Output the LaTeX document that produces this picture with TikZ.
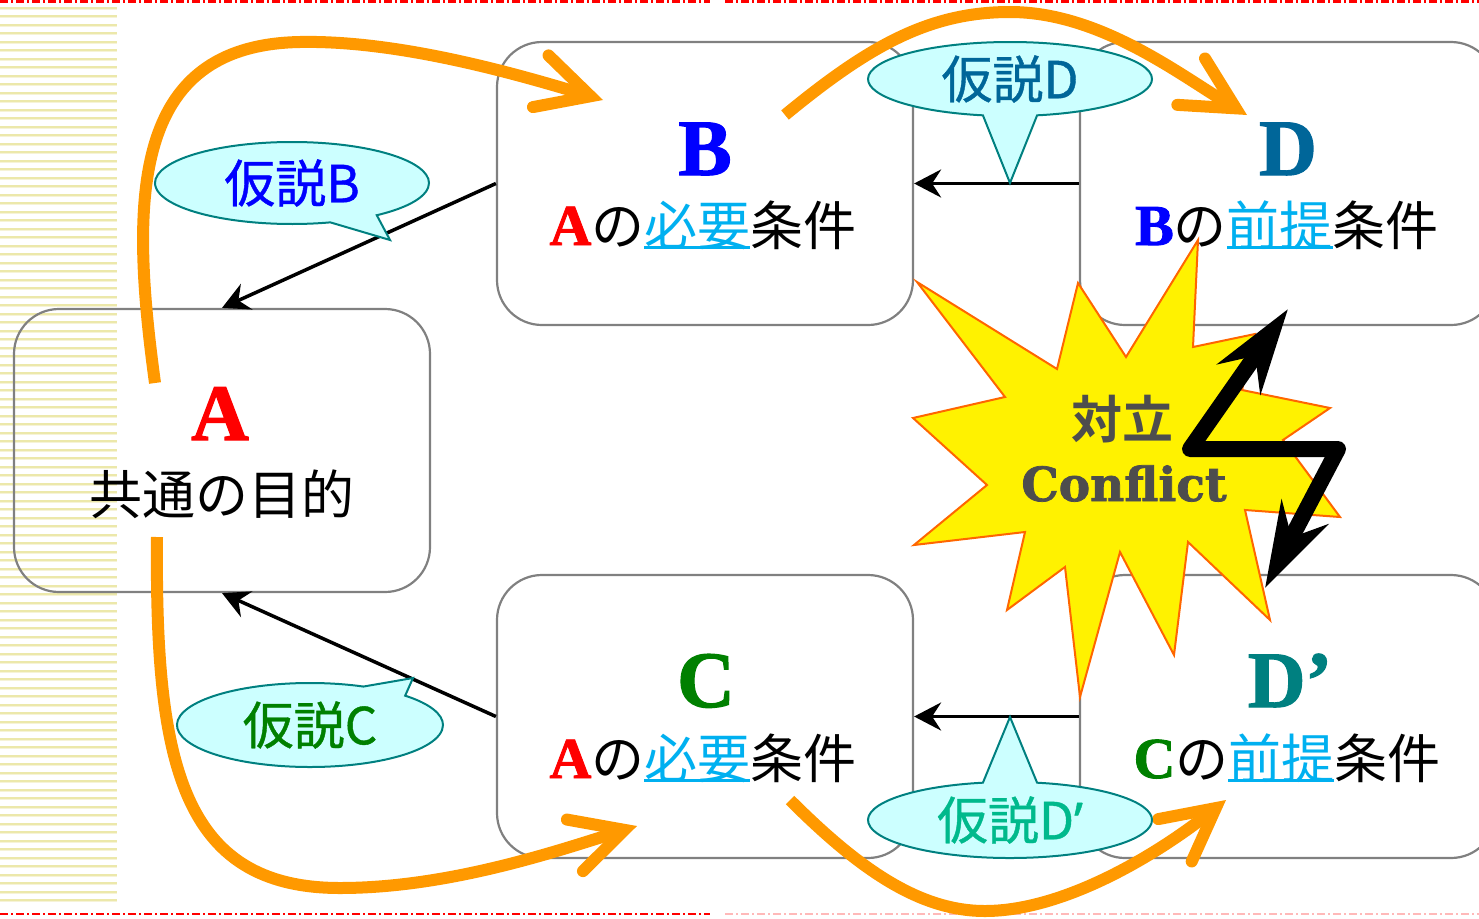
\documentclass[tikz,border=0pt]{standalone}
\usepackage{fontspec}
\usetikzlibrary{arrows.meta,shapes.callouts,shapes.geometric}
\newfontfamily\cjk[BoldFont={Noto Sans CJK JP Bold}]{Noto Sans CJK JP}
\newfontfamily\cjkm[FakeBold=0.8]{Noto Sans CJK JP}
\newfontfamily\tnr[BoldFeatures={FakeBold=1.5}]{Liberation Serif}
\newfontfamily\conffont[BoldFeatures={FakeBold=1.6}]{DejaVu Serif}
\newfontfamily\notos[FakeBold=0.8]{Noto Sans}
\definecolor{boxgray}{RGB}{128,128,128}
\definecolor{orng}{RGB}{255,153,0}
\definecolor{calfill}{RGB}{204,255,255}
\definecolor{calline}{RGB}{0,128,128}
\definecolor{Dblue}{RGB}{0,102,153}
\definecolor{Dteal}{RGB}{0,128,128}
\definecolor{Cgreen}{RGB}{0,128,0}
\definecolor{ulblue}{RGB}{0,176,240}
\definecolor{hypDp}{RGB}{0,185,140}
\definecolor{confgray}{RGB}{77,77,77}
\definecolor{burstline}{RGB}{255,102,0}
\definecolor{stripeA}{RGB}{236,232,170}
\definecolor{stripeB}{RGB}{246,243,215}
\definecolor{pinkd}{RGB}{255,185,185}
\newlength\ulw
\newcommand\ulc[1]{\settowidth\ulw{#1}\rlap{\rule[-0.07em]{\ulw}{3pt}}#1}
\newcommand\latn[2]{{\tnr\bfseries\fontsize{58}{58}\selectfont\color{#1}#2}}
\begin{document}
\begin{tikzpicture}[x=1pt,y=-1pt,
  box/.style={draw=boxgray, line width=2.2pt, rounded corners=45pt, minimum width=416pt, minimum height=283pt, inner sep=0pt},
  conn/.style={draw=black, line width=3.5pt, -{Stealth[length=27pt,width=28pt,inset=9pt]}},
  bigarrow/.style={draw=orng, line width=12pt, -{Straight Barb[length=52pt,width=54pt,line cap=round,line join=miter]}},
  hyp/.style={ellipse callout, draw=calline, fill=calfill, line width=2pt, inner sep=0pt, callout pointer arc=22, font=\cjkm\fontsize{51}{55}\selectfont},
  bigl/.style={font=\tnr\bfseries\fontsize{80}{80}\selectfont, anchor=base, inner sep=0pt},
  jline/.style={font=\cjk\fontsize{53}{57}\selectfont, anchor=base, inner sep=0pt},
  border/.style={line width=2.5pt, dash pattern=on 8pt off 3pt on 2pt off 3pt}]
\useasboundingbox (0,0) rectangle (1479,918);
% background stripes
\foreach \k in {0,...,105} {
  \draw[stripeA, line width=2pt] (0,{7.5+8.5*\k}) -- (117,{7.5+8.5*\k});
  \draw[stripeB, line width=1.2pt] (0,{9.1+8.5*\k}) -- (117,{9.1+8.5*\k});
}
% page borders
\draw[border, red] (0,1.5) -- (710,1.5);
\draw[border, red] (725,1.5) -- (1479,1.5);
\draw[border, red] (0,914) -- (710,914);
\draw[border, pinkd] (725,914) -- (1479,914);
% boxes
\node[box] (A) at (222,450.5) {};
\node[box] (B) at (705,183.5) {};
\node[box] (C) at (705,716.5) {};
\node[box] (D) at (1288,183.5) {};
\node[box] (Dp) at (1288,716.5) {};
% box texts
\node[bigl, text=red] (Al) at (220,440) {A};
\node[jline] (At) at (222,514) {共通の目的};
\node[bigl, text=blue] (Bl) at (705,175) {B};
\node[jline] (Bt) at (703,245) {\latn{red}{A}の{\color{ulblue}\ulc{必要}}条件};
\node[bigl, text=Dblue] (Dl) at (1288,175) {D};
\node[jline] (Dt) at (1287,245) {\latn{blue}{B}の{\color{ulblue}\ulc{前提}}条件};
\node[bigl, text=Cgreen] (Cl) at (706,707) {C};
\node[jline] (Ct) at (703,778) {\latn{red}{A}の{\color{ulblue}\ulc{必要}}条件};
\node[bigl, text=Dteal] (Dpl) at (1290,707) {D’};
\node[jline] (Dpt) at (1287,778) {\latn{Cgreen}{C}の{\color{ulblue}\ulc{前提}}条件};
% black connectors
\draw[conn] (B.west) -- (A.north);
\draw[conn] (C.west) -- (A.south);
\draw[conn] (D.west) -- (B.east);
\draw[conn] (Dp.west) -- (C.east);
% orange arrows
\coordinate (o1s) at (155,383); \coordinate (o1e) at (603,100);
\coordinate (o2s) at (785,115); \coordinate (o2e) at (1247,115);
\coordinate (o3s) at (157,537); \coordinate (o3e) at (637,826);
\coordinate (o4s) at (790,800); \coordinate (o4e) at (1226,800);
\draw[bigarrow] (o1s) .. controls (130,200) and (130,45) .. (300,42) .. controls (400,40) and (520,75) .. (o1e);
\draw[bigarrow] (o2s) .. controls (870,45) and (930,12) .. (1010,12) .. controls (1100,12) and (1180,75) .. (o2e);
\draw[bigarrow] (o3s) .. controls (155,760) and (180,888) .. (340,888) .. controls (450,888) and (560,850) .. (o3e);
\draw[bigarrow] (o4s) .. controls (860,870) and (920,911) .. (985,911) .. controls (1060,911) and (1150,860) .. (o4e);
% hypothesis callouts
\node[hyp, minimum width=274pt, minimum height=82pt, callout absolute pointer={(390,240)}] (hB) at (292,183) {\color{blue}仮説B};
\node[hyp, minimum width=266pt, minimum height=84pt, callout absolute pointer={(413,678)}] (hC) at (310,725) {\color{Cgreen}仮説C};
\node[hyp, minimum width=284pt, minimum height=74pt, callout absolute pointer={(1010,183)}] (hD) at (1010,79) {\color{Dblue}仮説D};
\node[hyp, minimum width=284pt, minimum height=76pt, callout absolute pointer={(1010,717)}] (hDp) at (1010,820) {\color{hypDp}仮説D{\notos ’}};
% conflict burst
\draw[fill=yellow, draw=burstline, line width=2pt]
  (1198,240) -- (1193,347) -- (1255,334) -- (1242,390) -- (1330,408) -- (1283,440)
  -- (1340,517) -- (1245,510) -- (1270,620) -- (1188,542) -- (1174,655) -- (1120,552)
  -- (1080,697) -- (1065,567) -- (1007,610) -- (1025,532) -- (914,545) -- (987,485)
  -- (913,418) -- (1005,397) -- (917,282) -- (1057,369) -- (1078,283) -- (1126,357) -- cycle;
\node[font=\cjk\bfseries\fontsize{51}{55}\selectfont, text=confgray, anchor=base, inner sep=0pt] (tai) at (1122,438) {対立};
\node[font=\conffont\bfseries\fontsize{47}{50}\selectfont, text=confgray, anchor=base, inner sep=0pt] (conf) at (1124,501) {Conflict};
% lightning bolt
\coordinate (z1) at (1288,309); \coordinate (z2) at (1190,449);
\coordinate (z3) at (1338,449); \coordinate (z4) at (1265,588);
\draw[line width=16pt, line join=round, {Stealth[length=85pt,width=52pt,inset=28pt]}-{Stealth[length=85pt,width=52pt,inset=28pt]}] (z1) -- (z2) -- (z3) -- (z4);
\end{tikzpicture}
\end{document}
